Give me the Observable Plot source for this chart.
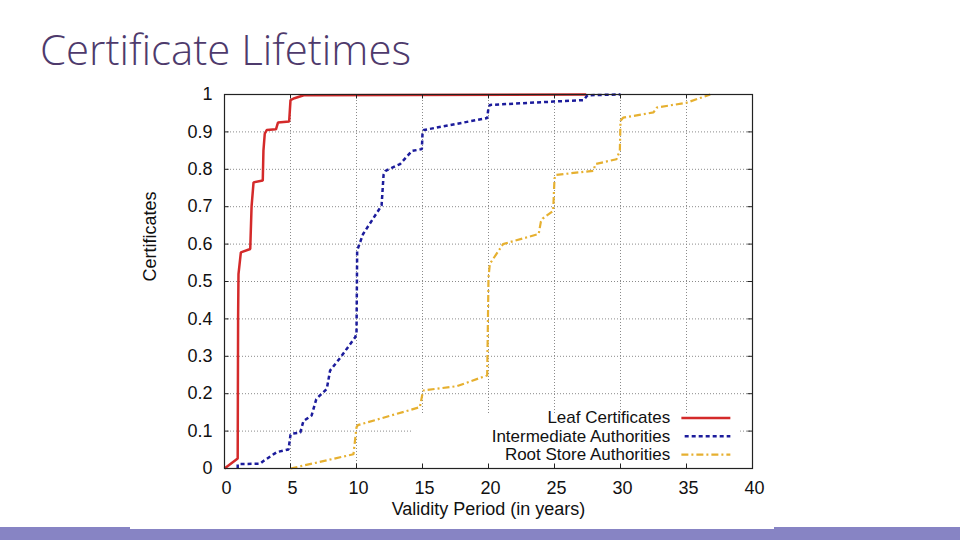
<!DOCTYPE html>
<html>
<head>
<meta charset="utf-8">
<script src="https://cdn.jsdelivr.net/npm/d3@7"></script>
<script src="https://cdn.jsdelivr.net/npm/@observablehq/plot@0.6"></script>
<style>
  html, body { margin: 0; padding: 0; background: #fff; }
  #page { position: relative; width: 960px; height: 540px; overflow: hidden; background: #fff; }
  #title { position: absolute; left: 40px; top: 20px; font-family: "Open Sans", "Lato", sans-serif; font-weight: 300;
           font-size: 42px; color: #4e3a6c; white-space: nowrap; transform-origin: 0 0; }
  #titleBox { height: 80px; }
  #chart svg { display: block; }
  #band { height: 13px; background: #8784c4; position: relative; }
  #bandGap { position: absolute; left: 130px; width: 644px; top: 0; height: 2px; background: #fff; }
</style>
</head>
<body>
<div id="page">
  <div id="titleBox"><div id="title">Certificate Lifetimes</div></div>
  <div id="chart"></div>
  <div id="band"><div id="bandGap"></div></div>
</div>
<script>
// ---- data ----
const xTicks = [0, 5, 10, 15, 20, 25, 30, 35, 40];
const yTicks = [0, 0.1, 0.2, 0.3, 0.4, 0.5, 0.6, 0.7, 0.8, 0.9, 1];

const seriesNames = ["Leaf Certificates", "Intermediate Authorities", "Root Store Authorities"];

const leafX = [0, 1.0, 1.03, 1.06, 1.24, 1.95, 2.05, 2.2, 2.9, 2.95, 3.05, 3.2, 3.9, 4.05, 4.9, 5.0, 5.3, 6.0, 27.4];
const leafY = [0, 0.027, 0.40, 0.52, 0.578, 0.587, 0.70, 0.765, 0.77, 0.85, 0.895, 0.905, 0.907, 0.925, 0.928, 0.985, 0.99, 0.998, 1.0];

const interX = [1.0, 1.0, 1.2, 2.7, 2.95, 3.97, 4.85, 5.0, 5.05, 5.74, 5.98, 6.6, 6.95, 7.1, 7.75, 8.0, 8.77, 9.9, 10.0, 10.05, 10.5, 11.9, 12.05, 12.2, 13.3, 14.2, 14.95, 15.0, 15.1, 19.9, 20.0, 20.1, 24.9, 27.2, 27.5, 30.0];
const interY = [0, 0.011, 0.012, 0.013, 0.02, 0.044, 0.051, 0.09, 0.093, 0.096, 0.127, 0.142, 0.185, 0.191, 0.213, 0.262, 0.296, 0.351, 0.36, 0.583, 0.627, 0.703, 0.785, 0.796, 0.814, 0.849, 0.854, 0.895, 0.905, 0.937, 0.965, 0.972, 0.981, 0.985, 0.998, 1.0];

const rootX = [5.0, 9.77, 10.0, 10.1, 14.8, 15.0, 15.1, 17.6, 19.9, 20.0, 20.1, 21.1, 23.8, 23.97, 24.1, 24.9, 25.0, 25.1, 27.95, 28.1, 29.7, 29.95, 30.0, 30.2, 32.5, 32.75, 35.0, 36.8];
const rootY = [0.0, 0.038, 0.11, 0.116, 0.164, 0.20, 0.209, 0.22, 0.249, 0.51, 0.547, 0.60, 0.627, 0.66, 0.668, 0.689, 0.775, 0.785, 0.796, 0.814, 0.827, 0.85, 0.93, 0.938, 0.952, 0.965, 0.978, 1.0];

// ---- build tables ----
const toRows = (xs, ys) => xs.map((x, i) => ({x, y: ys[i]}));
const leaf = toRows(leafX, leafY);
const inter = toRows(interX, interY);
const root = toRows(rootX, rootY);

const colors = ["#d42a2a", "#1c1c9c", "#e6b030"];
const dashes = [null, "4,3", "7,3,2,3"];
const widths = [2.5, 2.5, 2.2];

const gridX = xTicks.slice(1, -1);
const gridY = yTicks.slice(1, -1);
const legendRowY = [0.135, 0.086, 0.037];
const FS = 18;
const LFS = 17;

const lineStyle = (i) => ({stroke: colors[i], strokeWidth: widths[i], strokeDasharray: dashes[i], strokeLinecap: "butt", strokeLinejoin: "miter"});

const chart = Plot.plot({
  width: 960,
  height: 447,
  marginLeft: 224,
  marginRight: 208,
  marginTop: 14,
  marginBottom: 59,
  x: {domain: [0, 40]},
  y: {domain: [0, 1]},
  style: {fontFamily: "'Liberation Sans', Arial, Helvetica, sans-serif", fontSize: FS + "px", color: "#111", background: "#fff"},
  marks: [
    Plot.ruleX(gridX, {x: d => d, stroke: "#8a8a8a", strokeDasharray: "1,2", strokeWidth: 1}),
    Plot.ruleY(gridY, {y: d => d, stroke: "#8a8a8a", strokeDasharray: "1,2", strokeWidth: 1}),
    Plot.rect([0], {x1: 14.3, x2: 39.1, y1: 0.005, y2: 0.145, fill: "#fff"}),
    Plot.line(leaf, {x: "x", y: "y", ...lineStyle(0)}),
    Plot.line(inter, {x: "x", y: "y", ...lineStyle(1)}),
    Plot.line(root, {x: "x", y: "y", ...lineStyle(2)}),
    Plot.axisX({ticks: xTicks, tickSize: 0, tickPadding: 13, label: null, dx: 2, fontSize: FS}),
    Plot.axisY({ticks: yTicks, tickSize: 0, tickPadding: 12, label: null, fontSize: FS, tickFormat: d => String(+d.toFixed(1))}),
    Plot.ruleX(gridX, {x: d => d, y1: 0, y2: 0.012, stroke: "#222"}),
    Plot.ruleX(gridX, {x: d => d, y1: 0.988, y2: 1, stroke: "#222"}),
    Plot.ruleY(gridY, {y: d => d, x1: 0, x2: 0.35, stroke: "#222"}),
    Plot.ruleY(gridY, {y: d => d, x1: 39.65, x2: 40, stroke: "#222"}),
    Plot.frame({stroke: "#222", strokeWidth: 1.2}),
    Plot.text(seriesNames, {x: () => 33.77, y: (d, i) => legendRowY[i], text: d => d, textAnchor: "end", fontSize: LFS, fill: "#111"}),
    Plot.ruleY([legendRowY[0]], {y: d => d, x1: 34.65, x2: 38.36, ...lineStyle(0)}),
    Plot.ruleY([legendRowY[1]], {y: d => d, x1: 34.9, x2: 38.36, ...lineStyle(1)}),
    Plot.ruleY([legendRowY[2]], {y: d => d, x1: 34.65, x2: 38.36, ...lineStyle(2)}),
    Plot.text(["Certificates"], {frameAnchor: "left", dx: -74, rotate: -90, text: d => d, fontSize: FS, fill: "#111"}),
    Plot.text(["Validity Period (in years)"], {frameAnchor: "bottom", dy: 46, text: d => d, fontSize: FS, fill: "#111"})
  ]
});
document.getElementById("chart").appendChild(chart);

// fit the title to the reference width
const t = document.getElementById("title");
const w = t.getBoundingClientRect().width;
if (w > 0) t.style.transform = `scaleX(${371 / w})`;
</script>
</body>
</html>
